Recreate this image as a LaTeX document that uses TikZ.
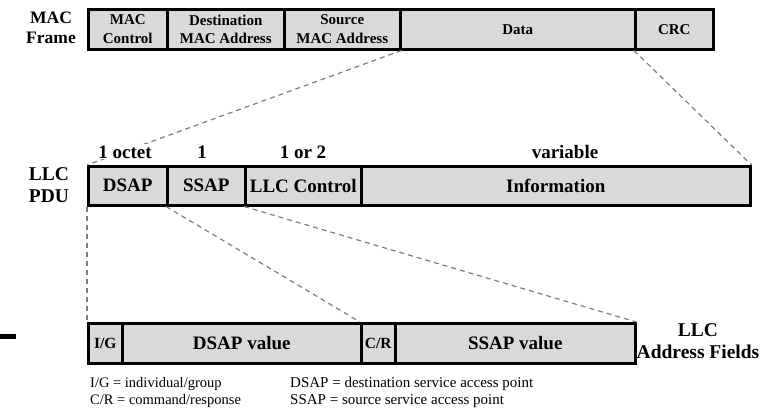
\documentclass[tikz,border=0pt]{standalone}
\usepackage{fontspec}
\setmainfont{Liberation Serif}
\definecolor{fieldgray}{RGB}{217,217,217}
\definecolor{dashgray}{RGB}{125,125,125}
\begin{document}
\begin{tikzpicture}[x=1pt,y=-1pt,
  field/.style={draw=black, fill=fieldgray, line width=2.5pt, inner sep=0pt,
    anchor=north west, align=center},
  macfont/.style={font=\bfseries\fontsize{15}{18.5}\selectfont},
  llcfont/.style={font=\bfseries\fontsize{19}{22}\selectfont},
  smallfont/.style={font=\bfseries\fontsize{15.5}{18}\selectfont},
  rowlabel/.style={align=center, inner sep=0pt, font=\bfseries\fontsize{19.5}{22.5}\selectfont},
  sizelabel/.style={anchor=base, fill=white, inner sep=1pt, font=\bfseries\fontsize{19}{22}\selectfont},
  legend/.style={anchor=base west, inner sep=0pt, font=\fontsize{14.5}{17}\selectfont},
  conn/.style={draw=dashgray, line width=1.2pt, dash pattern=on 5pt off 4pt}
]
\useasboundingbox (0,0) rectangle (774,418);

% MAC frame
\node[rowlabel, font=\bfseries\fontsize{17.5}{20}\selectfont] (macframe) at (51,28) {MAC\\Frame};
\node[field, macfont, minimum width=79pt, minimum height=40pt] (macctl) at (87,8) {MAC\\Control};
\node[field, macfont, minimum width=117pt, minimum height=40pt] (dstmac) at (166,8) {Destination\\MAC Address};
\node[field, macfont, minimum width=116pt, minimum height=40pt] (srcmac) at (283,8) {Source\\MAC Address};
\node[field, macfont, minimum width=235pt, minimum height=40pt] (data) at (399,8) {Data};
\node[field, macfont, minimum width=78pt, minimum height=40pt] (crc) at (634,8) {CRC};

% LLC address fields
\node[field, smallfont, minimum width=34pt, minimum height=40pt] (ig) at (87,322) {I/G};
\node[field, llcfont, minimum width=239pt, minimum height=40pt] (dsapval) at (121,322) {DSAP value};
\node[field, smallfont, minimum width=34pt, minimum height=40pt] (cr) at (360,322) {C/R};
\node[field, llcfont, minimum width=240pt, minimum height=40pt] (ssapval) at (394,322) {SSAP value};
\node[rowlabel] (addrlabel) at (698,341) {LLC\\Address Fields};

% LLC PDU
\node[rowlabel] (llcpdu) at (49,185) {LLC\\PDU};
\node[field, llcfont, minimum width=79pt, minimum height=39pt] (dsap) at (87,165) {DSAP};
\node[field, llcfont, minimum width=78pt, minimum height=39pt] (ssap) at (166,165) {SSAP};
\node[field, llcfont, minimum width=116pt, minimum height=39pt] (llcctl) at (244,165) {LLC Control};
\node[field, llcfont, minimum width=389pt, minimum height=39pt] (info) at (360,165) {Information};

% dashed expansion lines
\draw[conn] (srcmac.south east) -- (dsap.north west);
\draw[conn] (crc.south west) -- (info.north east);
\draw[conn] (dsap.south west) -- (ig.north west);
\draw[conn] (ssap.south west) -- (cr.north west);
\draw[conn] (llcctl.south west) -- (ssapval.north east);

% field sizes, set over the dashed lines
\node[sizelabel] (szdsap) at (125,158) {1 octet};
\node[sizelabel] (szssap) at (202,158) {1};
\node[sizelabel] (szctl) at (303,158) {1 or 2};
\node[sizelabel] (szinfo) at (565,158) {variable};

% short black bar at the left margin
\fill[black] (0,334) rectangle (16,339);

% legend
\node[legend] (legig) at (90,387) {I/G = individual/group};
\node[legend] (legcr) at (90,404) {C/R = command/response};
\node[legend, font=\fontsize{15}{17}\selectfont] (legdsap) at (290,387) {DSAP = destination service access point};
\node[legend, font=\fontsize{15}{17}\selectfont] (legssap) at (290,404) {SSAP = source service access point};
\end{tikzpicture}
\end{document}
